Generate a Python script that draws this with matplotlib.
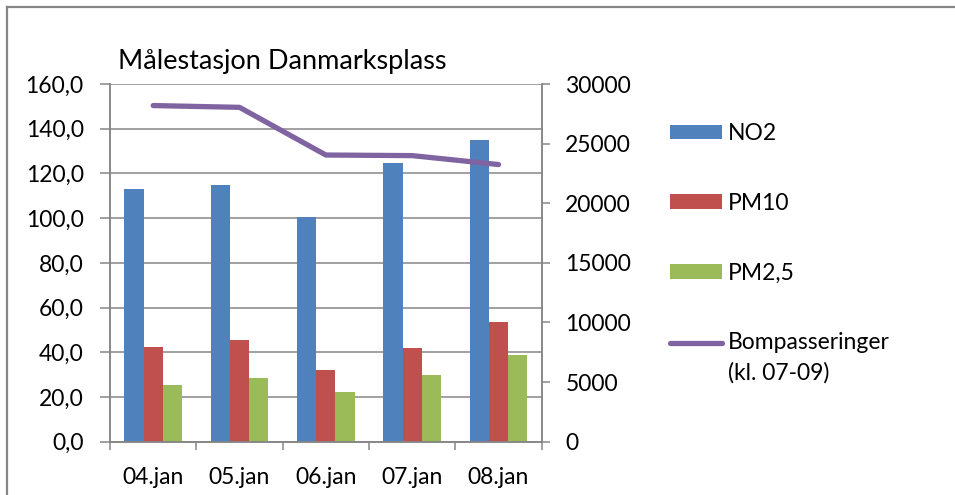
import matplotlib
matplotlib.use("Agg")
import matplotlib.pyplot as plt
import numpy as np
from matplotlib.ticker import FuncFormatter, FixedLocator
from matplotlib.lines import Line2D
from matplotlib.legend_handler import HandlerLine2D

plt.rcParams['font.family'] = ['Lato', 'DejaVu Sans']

dates = ["04.jan", "05.jan", "06.jan", "07.jan", "08.jan"]
no2 = [113.2, 115.0, 100.5, 124.5, 134.8]
pm10 = [42.4, 45.3, 32.0, 41.9, 53.5]
pm25 = [25.2, 28.3, 22.2, 29.7, 38.7]
bom = [28200, 28050, 24050, 24000, 23250]

blue = "#4F81BD"
red = "#C0504D"
green = "#9BBB59"
purple = "#8064A2"
grey = "#868686"
fs = 16.5


# legend line sits next to the first line of a two-line label
class FirstLineHandler(HandlerLine2D):
    def create_artists(self, legend, orig_handle, xdescent, ydescent, width, height, fontsize, trans):
        arts = super().create_artists(legend, orig_handle, xdescent, ydescent, width, height, fontsize, trans)
        for a in arts:
            a.set_ydata(np.asarray(a.get_ydata()) + 0.68 * fontsize)
        return arts


W, H = 955, 495
fig = plt.figure(figsize=(W / 100, H / 100), dpi=100)

# outer chart border (left and top only visible)
fig.add_artist(Line2D([7 / W, 7 / W], [0, 1 - 7 / H], transform=fig.transFigure, color=grey, lw=1.6))
fig.add_artist(Line2D([7 / W, 1], [1 - 7 / H, 1 - 7 / H], transform=fig.transFigure, color=grey, lw=1.6))

ax = fig.add_axes([110 / W, 53.3 / H, 431.7 / W, 357.6 / H])
ax2 = ax.twinx()

x = np.arange(len(dates))
w = 1 / 4.5
b1 = ax.bar(x - w, no2, w, color=blue, label="NO2")
b2 = ax.bar(x, pm10, w, color=red, label="PM10")
b3 = ax.bar(x + w, pm25, w, color=green, label="PM2,5")
ln, = ax2.plot(x, bom, color=purple, lw=3.8, solid_capstyle='round',
               label="Bompasseringer\n(kl. 07-09)")

ax.set_xlim(-0.5, len(dates) - 0.5)
ax.set_ylim(0, 160)
ax2.set_ylim(0, 30000)
ax.set_yticks(np.arange(0, 161, 20))
ax2.set_yticks(np.arange(0, 30001, 5000))
ax.yaxis.set_major_formatter(FuncFormatter(lambda v, p: f"{v:.1f}".replace(".", ",")))

ax.set_axisbelow(True)
ax.yaxis.grid(True, color=grey, lw=1.1)

ax.set_xticks(x)
ax.set_xticklabels(dates)
ax.xaxis.set_minor_locator(FixedLocator(np.arange(-0.5, len(dates), 1)))
ax.tick_params(axis='x', which='major', length=0, pad=18, labelsize=fs)
ax.tick_params(axis='x', which='minor', length=6, width=1.1, color=grey, direction='out')
ax.tick_params(axis='y', length=7, width=1.1, color=grey, pad=12, labelsize=fs)
ax2.tick_params(axis='y', length=6, width=1.1, color=grey, pad=11, labelsize=fs)

for a in (ax, ax2):
    a.spines['top'].set_visible(False)
    for s in ('left', 'right', 'bottom'):
        a.spines[s].set_color(grey)
        a.spines[s].set_linewidth(1.1)

fig.text(118 / W, 1 - 62 / H, "Målestasjon Danmarksplass", fontsize=19.5, va='center', ha='left')

leg = fig.legend(handles=[b1, b2, b3, ln], loc='upper left', bbox_to_anchor=(670 / W, 1 - 123 / H),
                 frameon=False, fontsize=fs, handlelength=2.27, handleheight=0.6,
                 handletextpad=0.26, labelspacing=2.13, borderpad=0, borderaxespad=0,
                 handler_map={Line2D: FirstLineHandler()})
leg.get_texts()[3].set_linespacing(1.5)

fig.savefig("out.png", dpi=100)
